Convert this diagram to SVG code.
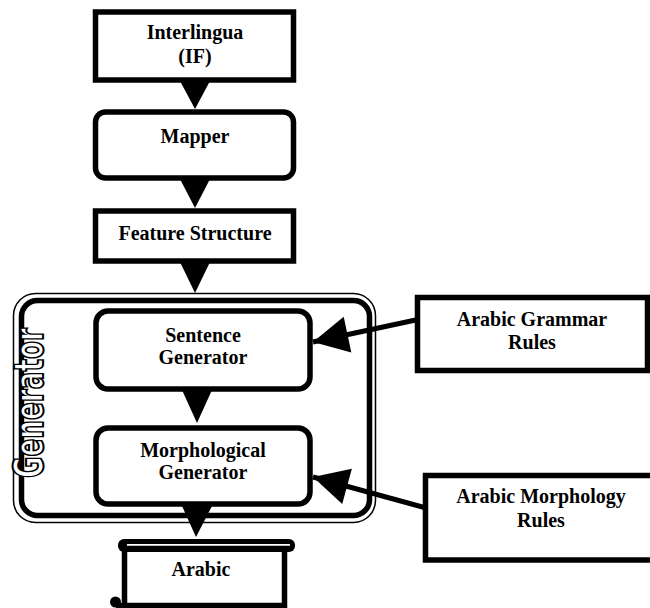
<svg xmlns="http://www.w3.org/2000/svg" width="650" height="608" viewBox="0 0 650 608">
<style>
.box{fill:#fff;stroke:#000;stroke-width:5.5}
.lbl{font-family:"Liberation Serif","Times New Roman",serif;font-weight:bold;font-size:20px;fill:#000;text-anchor:middle}
.tri{fill:#000}
.conn{stroke:#000;stroke-width:5;fill:none}
</style>
<defs>
<marker id="head" markerUnits="userSpaceOnUse" markerWidth="40" markerHeight="40" refX="0" refY="0" viewBox="-32 -17 34 34" orient="auto">
<path d="M0,0 L-30,-15.5 L-30,15.5 Z" fill="#000"/>
</marker>
</defs>
<rect width="650" height="608" fill="#fff"/>

<g id="generator">
<rect x="13.5" y="293.5" width="362" height="229" rx="22" fill="#fff" stroke="#000" stroke-width="1.5"/>
<rect x="21.5" y="300.5" width="348" height="215" rx="16" fill="#fff" stroke="#000" stroke-width="5.5"/>
<text transform="translate(43,478) rotate(-90)" textLength="150" lengthAdjust="spacingAndGlyphs" font-family="DejaVu Sans,sans-serif" font-weight="bold" font-size="41" fill="#fff" stroke="#000" stroke-width="2" paint-order="fill">Generator</text>
</g>

<g id="interlingua">
<rect class="box" x="95.5" y="12" width="198" height="68"/>
<text class="lbl" x="195" y="39">Interlingua</text>
<text class="lbl" x="195" y="63">(IF)</text>
</g>

<g id="mapper">
<rect class="box" x="95.5" y="112" width="198" height="66" rx="10"/>
<text class="lbl" x="195" y="143">Mapper</text>
</g>

<g id="feature">
<rect class="box" x="95.5" y="211" width="198" height="50"/>
<text class="lbl" x="195" y="240">Feature Structure</text>
</g>

<g id="sentence">
<rect class="box" x="96" y="311" width="214" height="78" rx="12"/>
<text class="lbl" x="203" y="342">Sentence</text>
<text class="lbl" x="203" y="364">Generator</text>
</g>

<g id="morph">
<rect class="box" x="96" y="428" width="214" height="76" rx="12"/>
<text class="lbl" x="203" y="457">Morphological</text>
<text class="lbl" x="203" y="479">Generator</text>
</g>

<g id="grammar">
<rect class="box" x="417.5" y="297.5" width="230" height="73"/>
<text class="lbl" x="532" y="326">Arabic Grammar</text>
<text class="lbl" x="532" y="349">Rules</text>
</g>

<g id="morphrules">
<rect class="box" x="425.5" y="475.5" width="240" height="84.5"/>
<text class="lbl" x="541" y="503">Arabic Morphology</text>
<text class="lbl" x="541" y="527">Rules</text>
</g>

<g id="arabic">
<path d="M124.5,548 V605.5 H284.5 V548" fill="#fff" stroke="#000" stroke-width="5.5"/>
<line x1="116" y1="605.5" x2="125" y2="605.5" stroke="#000" stroke-width="5"/>
<rect x="118" y="539" width="177" height="13" rx="6" fill="#000"/>
<line x1="127" y1="544.8" x2="290" y2="544.8" stroke="#fff" stroke-width="1.8"/>
<circle cx="115.5" cy="602" r="5.5" fill="#000"/>
<text class="lbl" x="201" y="576">Arabic</text>
</g>

<g id="connectors">
<polygon class="tri" points="180,81 210,81 195,109"/>
<polygon class="tri" points="180,179 210,179 195,208"/>
<polygon class="tri" points="180,262 210,262 195,293"/>
<polygon class="tri" points="182,390 212,390 197,423"/>
<polygon class="tri" points="182,506 212,506 196,537"/>
<line class="conn" x1="418" y1="319.5" x2="313" y2="342" marker-end="url(#head)"/>
<line class="conn" x1="426" y1="508" x2="313" y2="477" marker-end="url(#head)"/>
</g>
</svg>
